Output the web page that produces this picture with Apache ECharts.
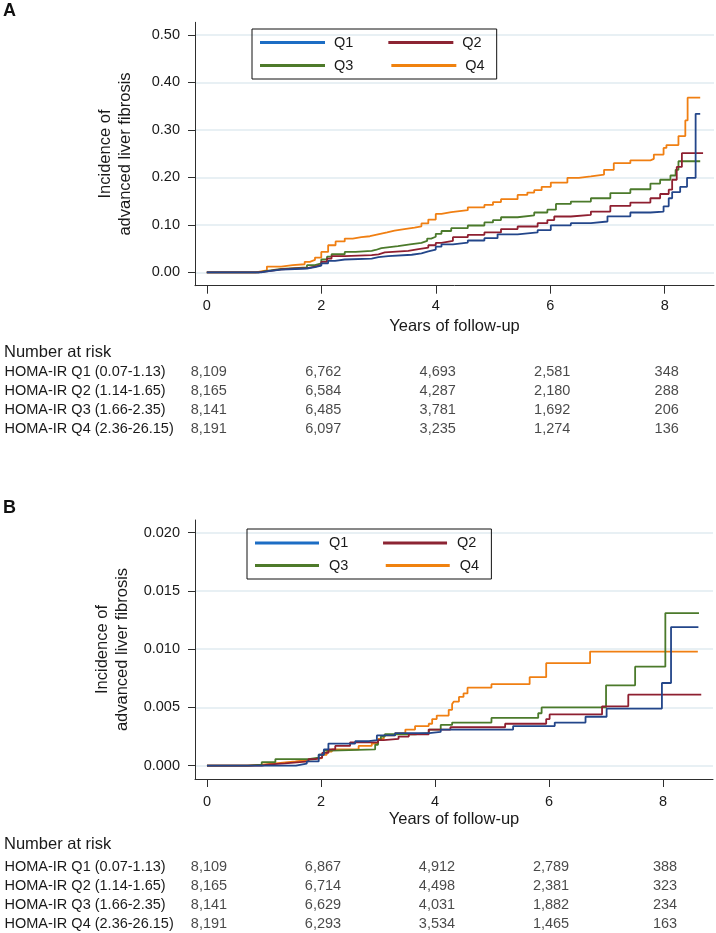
<!DOCTYPE html>
<html><head><meta charset="utf-8">
<script src="https://cdn.jsdelivr.net/npm/echarts@6/dist/echarts.min.js"></script>
<style>html,body{margin:0;padding:0;background:#fff}#c{width:716px;height:933px}</style>
</head><body><div id="c"></div>
<script>
// ---------- data ----------
const seriesNames = ['Q1', 'Q2', 'Q3', 'Q4'];
const lineColors = ['#23468a', '#8e1f30', '#4b7a2b', '#f07f12'];
const legendColors = ['#1c6dc4', '#8c2433', '#4e7a2a', '#f0820f'];
const xTicks = [0, 2, 4, 6, 8];
const yTicksA = [0, 0.1, 0.2, 0.3, 0.4, 0.5];
const yTicksB = [0, 0.005, 0.01, 0.015, 0.02];
const riskTimes = [0, 2, 4, 6, 8];
const riskLabels = ['HOMA-IR Q1 (0.07-1.13)', 'HOMA-IR Q2 (1.14-1.65)', 'HOMA-IR Q3 (1.66-2.35)', 'HOMA-IR Q4 (2.36-26.15)'];
const riskA_Q1 = [8109, 6762, 4693, 2581, 348];
const riskA_Q2 = [8165, 6584, 4287, 2180, 288];
const riskA_Q3 = [8141, 6485, 3781, 1692, 206];
const riskA_Q4 = [8191, 6097, 3235, 1274, 136];
const riskB_Q1 = [8109, 6867, 4912, 2789, 388];
const riskB_Q2 = [8165, 6714, 4498, 2381, 323];
const riskB_Q3 = [8141, 6629, 4031, 1882, 234];
const riskB_Q4 = [8191, 6293, 3534, 1465, 163];

// Panel A cumulative incidence [years, incidence]
const A_Q1 = [[0,0],[0.8,0],[0.95,0.002],[1.05,0.0056],[1.3,0.007],[1.54,0.008],[1.75,0.011],[1.89,0.014],[2.0,0.019],[2.12,0.024],[2.24,0.027],[2.41,0.029],[2.88,0.032],[3.0,0.034],[3.17,0.037],[3.58,0.040],[3.75,0.044],[3.87,0.048],[4.0,0.054],[4.1,0.059],[4.3,0.0627],[4.56,0.067],[4.85,0.072],[5.08,0.080],[5.43,0.084],[5.78,0.089],[6.01,0.099],[6.36,0.1035],[6.71,0.107],[7.0,0.118],[7.4,0.126],[7.75,0.128],[7.98,0.139],[8.07,0.156],[8.13,0.169],[8.27,0.180],[8.39,0.199],[8.54,0.334],[8.62,0.334]];
const A_Q2 = [[0,0],[0.75,0],[0.9,0.002],[1.05,0.006],[1.3,0.008],[1.54,0.009],[1.75,0.012],[1.89,0.015],[2.0,0.022],[2.1,0.029],[2.18,0.034],[2.41,0.036],[2.88,0.038],[3.0,0.042],[3.11,0.045],[3.52,0.049],[3.7,0.052],[3.87,0.057],[4.0,0.062],[4.1,0.066],[4.3,0.074],[4.56,0.079],[4.85,0.084],[5.14,0.091],[5.43,0.0965],[5.78,0.1035],[5.95,0.11],[6.07,0.1176],[6.36,0.121],[6.71,0.128],[7.05,0.140],[7.4,0.147],[7.75,0.156],[7.92,0.165],[8.07,0.174],[8.13,0.195],[8.21,0.222],[8.3,0.251],[8.67,0.251]];
const A_Q3 = [[0,0],[0.75,0],[0.9,0.003],[1.05,0.007],[1.3,0.009],[1.54,0.0105],[1.75,0.015],[1.89,0.019],[2.0,0.027],[2.1,0.033],[2.18,0.038],[2.41,0.043],[2.6,0.045],[2.88,0.047],[2.95,0.051],[3.05,0.055],[3.34,0.059],[3.55,0.062],[3.75,0.066],[3.85,0.071],[3.92,0.075],[4.0,0.081],[4.1,0.087],[4.27,0.093],[4.56,0.0986],[4.85,0.105],[5.0,0.11],[5.14,0.116],[5.43,0.120],[5.72,0.126],[5.95,0.132],[6.1,0.144],[6.36,0.149],[6.71,0.156],[7.05,0.167],[7.4,0.175],[7.75,0.187],[7.92,0.195],[8.1,0.204],[8.19,0.216],[8.24,0.234],[8.62,0.234]];
const A_Q4 = [[0,0],[0.67,0],[0.85,0.004],[1.05,0.012],[1.3,0.015],[1.5,0.017],[1.71,0.022],[1.8,0.026],[1.89,0.031],[2.0,0.043],[2.12,0.057],[2.25,0.065],[2.41,0.071],[2.55,0.074],[2.7,0.076],[2.85,0.080],[2.99,0.084],[3.15,0.088],[3.28,0.091],[3.45,0.094],[3.63,0.097],[3.75,0.103],[3.87,0.111],[4.0,0.123],[4.1,0.127],[4.27,0.131],[4.56,0.137],[4.85,0.142],[5.0,0.148],[5.14,0.154],[5.43,0.163],[5.6,0.168],[5.72,0.173],[5.85,0.180],[6.01,0.189],[6.3,0.199],[6.5,0.202],[6.71,0.206],[6.94,0.216],[7.11,0.230],[7.4,0.236],[7.75,0.239],[7.81,0.248],[7.98,0.262],[8.03,0.268],[8.24,0.287],[8.36,0.32],[8.4,0.368],[8.62,0.368]];

// Panel B cumulative incidence [years, incidence]
const B_Q1 = [[0,0],[1.56,0.00017],[1.75,0.00037],[1.96,0.00094],[2.05,0.0014],[2.13,0.0019],[2.6,0.0021],[2.84,0.0022],[2.98,0.0026],[3.3,0.0028],[3.9,0.0029],[4.1,0.0031],[5.37,0.0034],[6.1,0.0037],[6.64,0.0042],[7.01,0.0049],[7.98,0.0071],[8.14,0.0119],[8.62,0.0119]];
const B_Q2 = [[0,0],[0.96,0.0001],[1.06,0.0002],[1.37,0.00037],[1.78,0.00057],[1.9,0.0007],[2.02,0.0011],[2.13,0.0014],[2.25,0.0017],[2.51,0.0020],[3.0,0.0022],[3.1,0.0023],[3.36,0.0025],[3.54,0.0027],[3.89,0.0031],[4.27,0.0033],[5.23,0.0036],[5.95,0.0040],[6.01,0.0044],[6.93,0.0051],[7.39,0.0061],[8.67,0.0061]];
const B_Q3 = [[0,0],[0.73,0.0001],[0.96,0.0003],[1.2,0.00057],[1.78,0.0007],[1.96,0.00094],[2.05,0.0013],[2.18,0.0014],[2.95,0.0018],[3.0,0.0022],[3.05,0.0025],[3.12,0.0027],[3.65,0.0028],[3.89,0.0031],[4.1,0.0035],[4.3,0.0037],[4.99,0.0041],[5.81,0.0045],[5.87,0.0050],[7.0,0.0069],[7.51,0.0085],[8.04,0.0131],[8.63,0.0131]];
const B_Q4 = [[0,0],[0.7,0.0001],[0.96,0.0002],[1.2,0.00037],[1.55,0.0005],[1.78,0.00065],[2.02,0.00094],[2.1,0.0012],[2.19,0.0014],[2.66,0.0017],[2.89,0.0019],[3.0,0.0023],[3.1,0.0026],[3.3,0.0028],[3.48,0.0031],[3.65,0.0034],[3.89,0.0036],[3.95,0.004],[4.03,0.0043],[4.24,0.0048],[4.3,0.0053],[4.33,0.0055],[4.42,0.0059],[4.5,0.0062],[4.57,0.0067],[4.99,0.0070],[5.66,0.0076],[5.95,0.0088],[6.72,0.0098],[8.61,0.0098]];

// ---------- chart ----------
const FONT = "'Liberation Sans', Arial, sans-serif";
const TXT = '#1a1a1a';
const AX = '#2e2e2e';
const chart = echarts.init(document.getElementById('c'), null, {renderer: 'canvas'});
const fmtN = n => n.toLocaleString('en-US');

function plotX(gi, min, max, margin) {
  return {
    gridIndex: gi, type: 'value', min: min, max: max,
    axisLine: {show: true, onZero: false, lineStyle: {color: AX, width: 1}},
    axisTick: {show: true, length: 8, customValues: xTicks, lineStyle: {color: AX}},
    axisLabel: {customValues: xTicks, margin: margin, fontSize: 14.5, color: TXT, fontFamily: FONT},
    splitLine: {show: false},
    name: 'Years of follow-up', nameLocation: 'middle', nameGap: 32,
    nameTextStyle: {fontSize: 16.5, color: TXT, fontFamily: FONT}
  };
}
function plotY(gi, min, max, ticks, dec) {
  return {
    gridIndex: gi, type: 'value', min: min, max: max,
    axisLine: {show: true, onZero: false, lineStyle: {color: AX, width: 1}},
    axisTick: {show: true, length: 7, customValues: ticks, lineStyle: {color: AX}},
    axisLabel: {customValues: ticks, margin: 15, fontSize: 14.5, color: TXT, fontFamily: FONT,
      formatter: v => Number(v).toFixed(dec)},
    splitLine: {show: true, lineStyle: {color: '#e1ebf1', width: 1.5}},
    name: 'Incidence of\nadvanced liver fibrosis', nameLocation: 'middle', nameGap: 60,
    nameTextStyle: {fontSize: 16.5, color: TXT, fontFamily: FONT, lineHeight: 20}
  };
}
function tableX(gi, min, max) {
  return {gridIndex: gi, type: 'value', min: min, max: max, show: false};
}
function tableY(gi) {
  return {
    gridIndex: gi, type: 'category', data: riskLabels, inverse: true,
    axisLine: {show: false}, axisTick: {show: false}, splitLine: {show: false},
    axisLabel: {interval: 0, align: 'left', margin: 190.5, fontSize: 14.5, color: TXT, fontFamily: FONT}
  };
}
function riskSeries(xi, rows) {
  const data = [];
  rows.forEach((row, r) => row.forEach((n, i) => data.push([riskTimes[i], riskLabels[r], n])));
  return {
    type: 'scatter', xAxisIndex: xi, yAxisIndex: xi, data: data, symbolSize: 1,
    itemStyle: {color: 'rgba(0,0,0,0)'}, silent: true,
    label: {show: true, position: 'inside', offset: [2, 0], formatter: p => fmtN(p.value[2]),
      fontSize: 14.5, color: TXT, fontFamily: FONT}
  };
}
function curve(name, data, idx, axis) {
  return {
    name: name, type: 'line', step: 'end', xAxisIndex: axis, yAxisIndex: axis, data: data,
    showSymbol: false, symbol: 'none', lineStyle: {color: lineColors[idx], width: 1.8},
    itemStyle: {color: lineColors[idx]}, clip: true, silent: true, z: 10 - idx
  };
}
function legendItems(names) {
  return names.map(n => ({name: n, itemStyle: {color: legendColors[seriesNames.indexOf(n)]}}));
}
const legTxt = {fontSize: 14.5, color: TXT, fontFamily: FONT, padding: [0, 0, 0, 4]};

const option = {
  animation: false,
  backgroundColor: '#fff',
  textStyle: {fontFamily: FONT},
  title: [
    {text: 'A', left: 3, top: 2, padding: 0, textStyle: {fontSize: 18, fontWeight: 'bold', color: '#111', fontFamily: FONT}},
    {text: 'B', left: 3, top: 499, padding: 0, textStyle: {fontSize: 18, fontWeight: 'bold', color: '#111', fontFamily: FONT}},
    {text: 'Number at risk', left: 4, top: 344, padding: 0, textStyle: {fontSize: 16.5, fontWeight: 'normal', color: TXT, fontFamily: FONT}},
    {text: 'Number at risk', left: 4, top: 835.5, padding: 0, textStyle: {fontSize: 16.5, fontWeight: 'normal', color: TXT, fontFamily: FONT}}
  ],
  legend: [
    {data: legendItems(['Q1', 'Q2']), left: 252, top: 29, padding: [6, 15, 29, 8], itemGap: 35,
      borderColor: '#111', borderWidth: 1, icon: 'rect', itemWidth: 65, itemHeight: 3,
      selectedMode: false, textStyle: legTxt},
    {data: legendItems(['Q3', 'Q4']), left: 260, top: 58, padding: 0, itemGap: 38,
      icon: 'rect', itemWidth: 65, itemHeight: 3, selectedMode: false, textStyle: legTxt},
    {data: legendItems(['Q1', 'Q2']), left: 247, top: 529, padding: [6.5, 15, 28.5, 8], itemGap: 34.7,
      borderColor: '#111', borderWidth: 1, icon: 'rect', itemWidth: 64, itemHeight: 3,
      selectedMode: false, textStyle: Object.assign({}, legTxt, {padding: [0, 0, 0, 5]})},
    {data: legendItems(['Q3', 'Q4']), left: 255, top: 558, padding: 0, itemGap: 37.4,
      icon: 'rect', itemWidth: 64, itemHeight: 3, selectedMode: false,
      textStyle: Object.assign({}, legTxt, {padding: [0, 0, 0, 5]})}
  ],
  grid: [
    {left: 195, right: 2, top: 22.3, bottom: 647.3},
    {left: 195, right: 2, top: 362.8, height: 76},
    {left: 195, right: 3, top: 520, bottom: 154},
    {left: 195, right: 3, top: 857.2, height: 76.4}
  ],
  xAxis: [
    plotX(0, -0.206, 8.861, 13),
    tableX(1, -0.206, 8.861),
    plotX(2, -0.21, 8.876, 15),
    tableX(3, -0.21, 8.876)
  ],
  yAxis: [
    plotY(0, -0.02823, 0.52676, yTicksA, 2),
    tableY(1),
    plotY(2, -0.001142, 0.02109, yTicksB, 3),
    tableY(3)
  ],
  series: [
    curve('Q1', A_Q1, 0, 0), curve('Q2', A_Q2, 1, 0), curve('Q3', A_Q3, 2, 0), curve('Q4', A_Q4, 3, 0),
    riskSeries(1, [riskA_Q1, riskA_Q2, riskA_Q3, riskA_Q4]),
    curve('Q1', B_Q1, 0, 2), curve('Q2', B_Q2, 1, 2), curve('Q3', B_Q3, 2, 2), curve('Q4', B_Q4, 3, 2),
    riskSeries(3, [riskB_Q1, riskB_Q2, riskB_Q3, riskB_Q4])
  ]
};
chart.setOption(option);
</script>
</body></html>
